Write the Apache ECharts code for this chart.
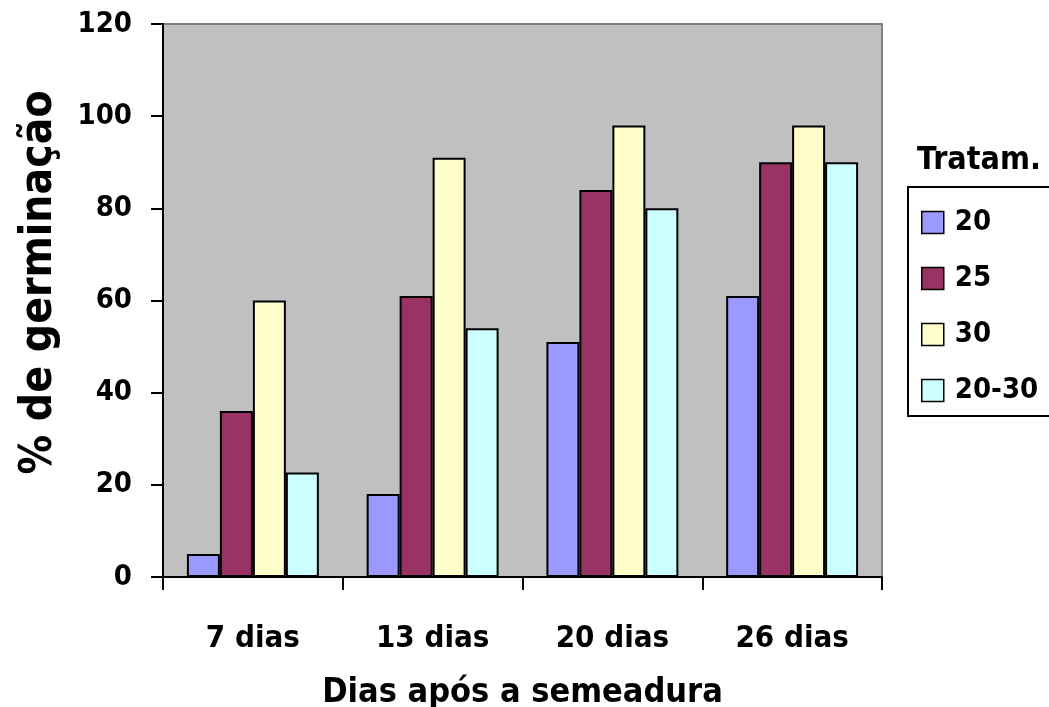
<!DOCTYPE html>
<html>
<head>
<meta charset="utf-8">
<script src="https://cdn.jsdelivr.net/npm/echarts@6/dist/echarts.min.js"></script>
<style>
  html, body { margin: 0; padding: 0; background: #fff; }
  #chart { width: 1049px; height: 707px; }
</style>
</head>
<body>
<div id="chart"></div>
<script>
// Germination (%) per temperature treatment, by days after sowing
const categories = ['7 dias', '13 dias', '20 dias', '26 dias'];
const seriesNames = ['20', '25', '30', '20-30'];
const t20 = [5, 18, 51, 61];
const t25 = [36, 61, 84, 90];
const t30 = [60, 91, 98, 98];
const t2030 = [22.7, 54, 80, 90];
const yTicks = { min: 0, max: 120, step: 20 };

const FONT = "'DejaVu Sans Condensed', 'DejaVu Sans', sans-serif";
const colors = ['#9999FF', '#993366', '#FFFFCC', '#CCFFFF'];
const values = [t20, t25, t30, t2030];

const chart = echarts.init(document.getElementById('chart'), null, { renderer: 'canvas' });

chart.setOption({
  animation: false,
  backgroundColor: '#ffffff',
  textStyle: { fontFamily: FONT },
  grid: {
    left: 163, top: 24, right: 167, bottom: 130,
    outerBoundsMode: 'none',
    show: true, backgroundColor: '#C0C0C0',
    borderColor: '#808080', borderWidth: 2
  },
  graphic: [
    {
      type: 'rect', left: 907, top: 186, z: 0,
      shape: { width: 160, height: 229 },
      style: { fill: '#ffffff', stroke: '#000000', lineWidth: 2 }
    },
    {
      type: 'text', left: 917, top: 145, z: 5,
      style: { text: 'Tratam.', fill: '#000', font: 'bold 32px ' + FONT }
    }
  ],
  legend: {
    orient: 'vertical', left: 921, top: 208, padding: 0,
    itemWidth: 22, itemHeight: 22, itemGap: 27,
    icon: 'rect',
    data: seriesNames,
    itemStyle: { borderColor: '#000', borderWidth: 1.5 },
    textStyle: { fontFamily: FONT, fontWeight: 'bold', fontSize: 29, color: '#000', padding: [0, 0, 0, 6] }
  },
  xAxis: {
    type: 'category', data: categories,
    name: 'Dias após a semeadura', nameLocation: 'middle', nameGap: 99,
    nameTextStyle: { fontFamily: FONT, fontWeight: 'bold', fontSize: 34, color: '#000' },
    axisLine: { lineStyle: { color: '#000', width: 2 } },
    axisTick: { show: true, alignWithLabel: false, length: 13, lineStyle: { color: '#000', width: 2 } },
    axisLabel: { fontFamily: FONT, fontWeight: 'bold', fontSize: 31, color: '#000', margin: 46 },
    splitLine: { show: false }
  },
  yAxis: {
    type: 'value', min: yTicks.min, max: yTicks.max, interval: yTicks.step,
    name: '% de germinação', nameLocation: 'middle', nameGap: 101, nameRotate: 90,
    nameTextStyle: { fontFamily: FONT, fontWeight: 'bold', fontSize: 44, color: '#000', padding: [0, 0, 0, 36] },
    axisLine: { show: true, lineStyle: { color: '#000', width: 2 } },
    axisTick: { show: true, length: 12, lineStyle: { color: '#000', width: 2 } },
    axisLabel: { fontFamily: FONT, fontWeight: 'bold', fontSize: 29, color: '#000', margin: 31 },
    splitLine: { show: false }
  },
  series: seriesNames.map((name, i) => ({
    name: name, type: 'bar', data: values[i],
    barGap: '0%', barCategoryGap: '26.6%',
    itemStyle: { color: colors[i], borderColor: '#000', borderWidth: 2 }
  }))
});
</script>
</body>
</html>
